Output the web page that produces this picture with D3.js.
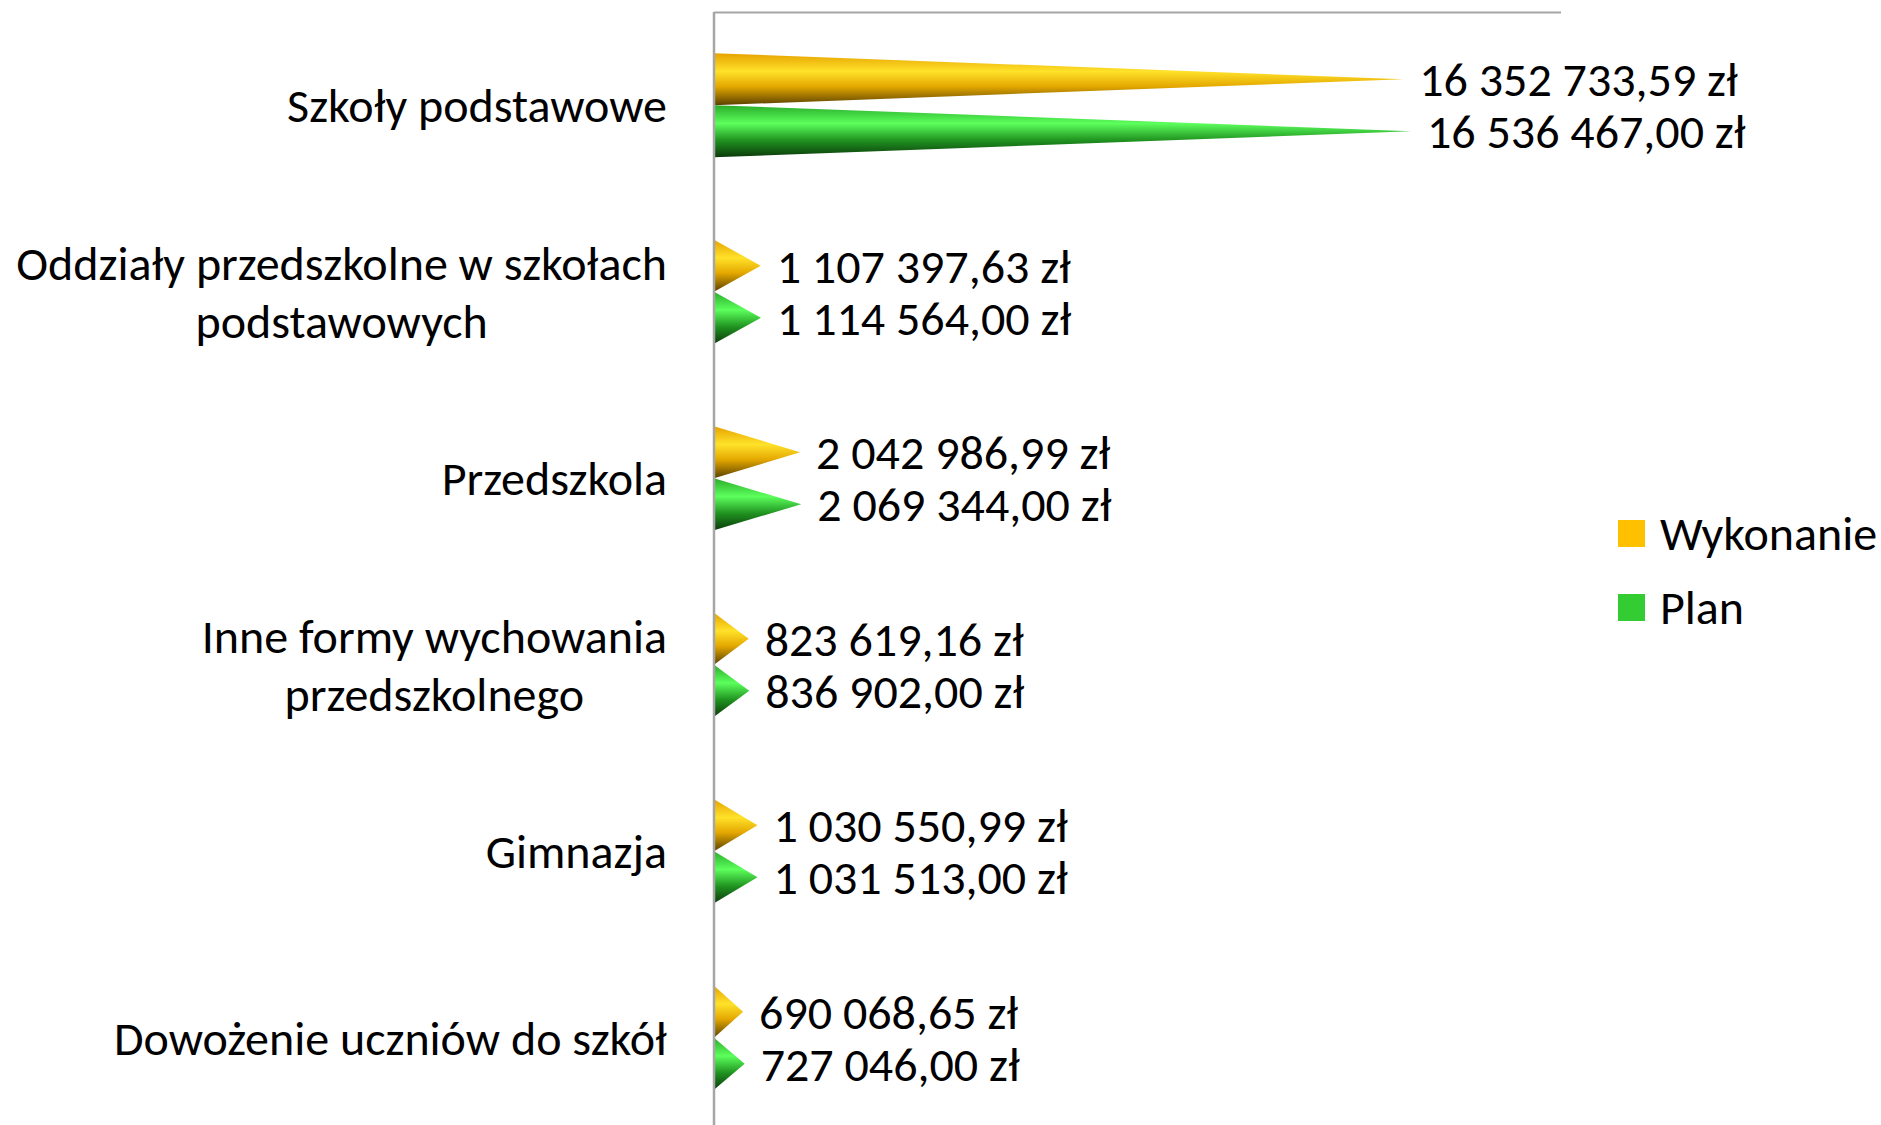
<!DOCTYPE html>
<html>
<head>
<meta charset="utf-8">
<script src="https://cdn.jsdelivr.net/npm/d3@7"></script>
<style>
  body { margin: 0; background: #fff; }
  text { font-family: Carlito, Calibri, Lato, sans-serif; fill: #000; }
</style>
</head>
<body>
<script>
// categories, top to bottom
var categories = [
    ["Szkoły podstawowe"],
    ["Oddziały przedszkolne w szkołach", "podstawowych"],
    ["Przedszkola"],
    ["Inne formy wychowania", "przedszkolnego"],
    ["Gimnazja"],
    ["Dowożenie uczniów do szkół"]
];
var series = ["Wykonanie", "Plan"];
var wykonanie = [16352733.59, 1107397.63, 2042986.99, 823619.16, 1030550.99, 690068.65];
var plan = [16536467.00, 1114564.00, 2069344.00, 836902.00, 1031513.00, 727046.00];
var legendColors = ["#ffc000", "#33cc33"];

var width = 1881, height = 1125;
var fontSize = 48;

var svg = d3.select("body").append("svg")
    .attr("width", width)
    .attr("height", height);

var defs = svg.append("defs");
var gradStops = [
    [["0%", "#e6a200"], ["35%", "#ffe22a"], ["64%", "#e4a800"], ["100%", "#5a4000"]],
    [["0%", "#2aac2a"], ["35%", "#5cff5c"], ["68%", "#1f911f"], ["100%", "#0c3a0c"]]
];
gradStops.forEach(function(stops, i) {
    var g = defs.append("linearGradient")
        .attr("id", "cone" + i)
        .attr("x1", 0).attr("y1", 0).attr("x2", 0).attr("y2", 1);
    stops.forEach(function(s) {
        g.append("stop").attr("offset", s[0]).attr("stop-color", s[1]);
    });
});

var x = d3.scaleLinear()
    .domain([0, 20000000])
    .range([714, 1557]);

var y = d3.scaleBand()
    .domain(d3.range(categories.length))
    .range([12, 12 + 186.5 * categories.length])
    .paddingInner(0.442)
    .paddingOuter(0.221);

var ySub = d3.scaleBand()
    .domain(series)
    .range([0, y.bandwidth()]);

// frame line on top
svg.append("line")
    .attr("x1", 714).attr("x2", 1561)
    .attr("y1", 12.5).attr("y2", 12.5)
    .attr("stroke", "#a6a6a6").attr("stroke-width", 2);

var rows = categories.map(function(c, i) {
    return { i: i, values: [wykonanie[i], plan[i]] };
});

var groups = svg.selectAll("g.cat")
    .data(rows)
    .enter().append("g")
    .attr("class", "cat")
    .attr("transform", function(d) { return "translate(0," + y(d.i) + ")"; });

var fmt = function(v) {
    var parts = v.toFixed(2).split(".");
    var intPart = parts[0].replace(/\B(?=(\d{3})+(?!\d))/g, " ");
    return intPart + "," + parts[1] + " zł";
};

groups.each(function(d) {
    var g = d3.select(this);
    d.values.forEach(function(v, j) {
        var y0 = ySub(series[j]);
        var h = ySub.bandwidth();
        var x0 = x(0), x1 = x(v);
        g.append("path")
            .attr("d", "M" + x0 + "," + y0 + "L" + x1 + "," + (y0 + h / 2) + "L" + x0 + "," + (y0 + h) + "Z")
            .attr("fill", "url(#cone" + j + ")");
        g.append("text")
            .attr("x", x1 + 16)
            .attr("y", y0 + h / 2)
            .attr("dy", "0.35em")
            .style("font-size", fontSize + "px")
            .text(fmt(v));
    });
});

// vertical axis line
svg.append("line")
    .attr("x1", 714).attr("x2", 714)
    .attr("y1", 12).attr("y2", height)
    .attr("stroke", "#a6a6a6").attr("stroke-width", 2.5);

// category labels, lines centred on each other, block right-aligned
var lineH = 58;
categories.forEach(function(lines, i) {
    var cy = y(i) + y.bandwidth() / 2;
    var t = svg.append("text")
        .attr("text-anchor", "middle")
        .style("font-size", fontSize + "px");
    lines.forEach(function(l, k) {
        t.append("tspan")
            .attr("y", cy + (k - (lines.length - 1) / 2) * lineH)
            .attr("dy", "0.35em")
            .text(l);
    });
    var maxW = d3.max(t.selectAll("tspan").nodes(), function(n) { return n.getComputedTextLength(); });
    t.selectAll("tspan").attr("x", 667 - maxW / 2);
});

// legend
var legend = svg.selectAll("g.legend")
    .data(series)
    .enter().append("g")
    .attr("class", "legend")
    .attr("transform", function(d, i) { return "translate(1618," + (520 + i * 74) + ")"; });
legend.append("rect")
    .attr("width", 27).attr("height", 27)
    .attr("fill", function(d, i) { return legendColors[i]; });
legend.append("text")
    .attr("x", 42).attr("y", 13.5)
    .attr("dy", "0.35em")
    .style("font-size", fontSize + "px")
    .text(function(d) { return d; });
</script>
</body>
</html>
